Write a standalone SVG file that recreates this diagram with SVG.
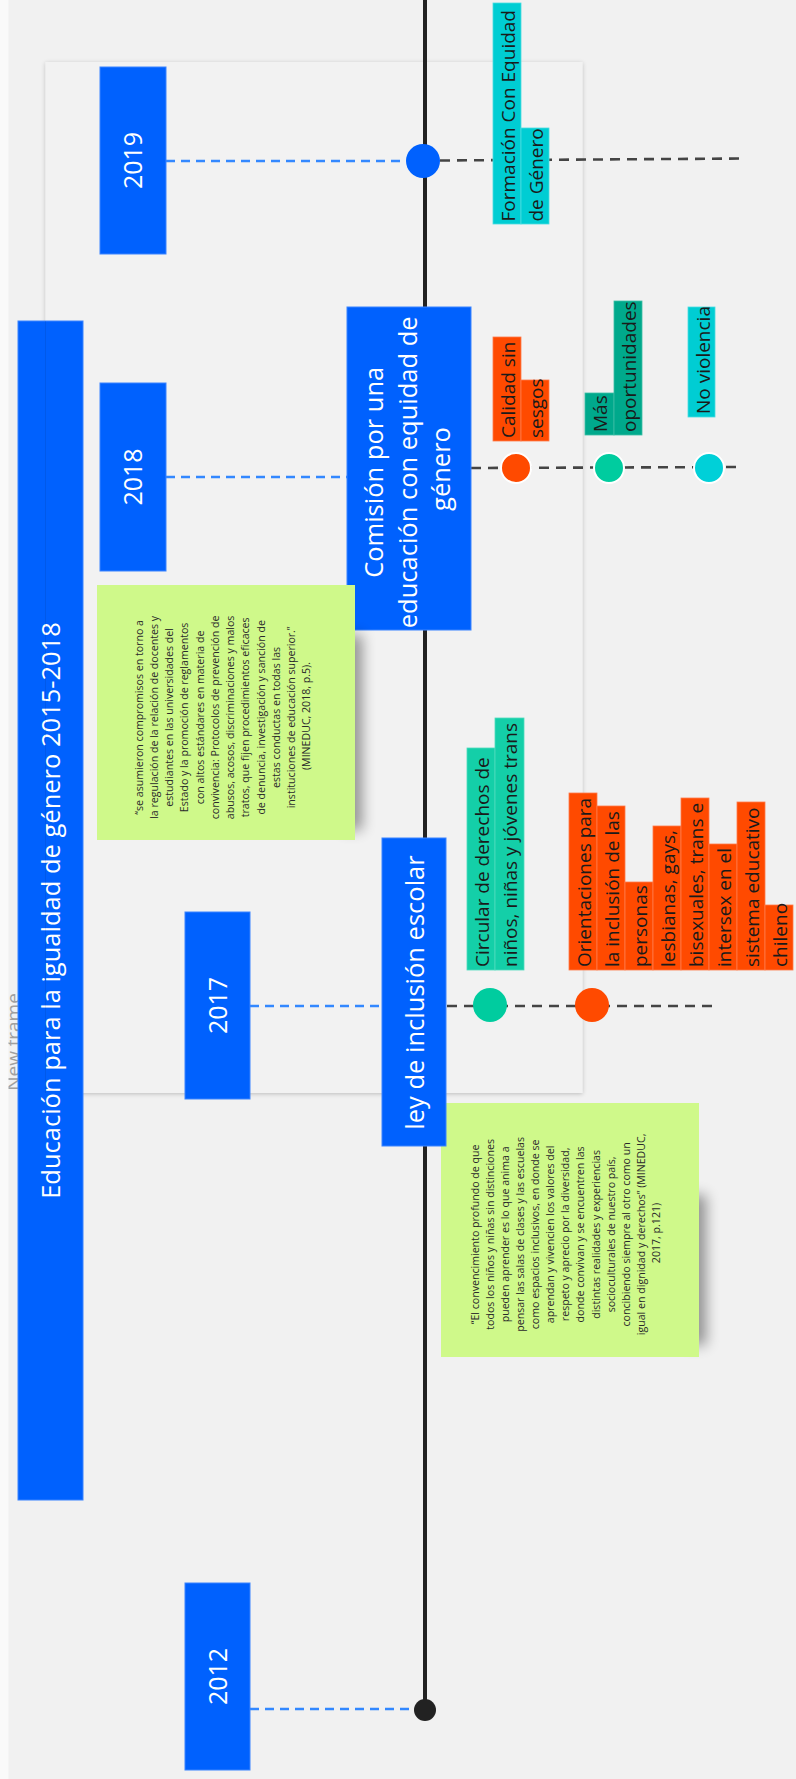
<svg xmlns="http://www.w3.org/2000/svg" width="796" height="1779" viewBox="0 0 796 1779">
<defs>
<filter id="frameShadow" x="-5%" y="-5%" width="110%" height="110%">
<feDropShadow dx="0" dy="1" stdDeviation="2" flood-color="#000" flood-opacity="0.22"/>
</filter>
<filter id="blur6" x="-150%" y="-30%" width="400%" height="160%">
<feGaussianBlur stdDeviation="7"/>
</filter>
<style>
text{font-family:"Open Sans","Noto Sans","DejaVu Sans",sans-serif;}
.box{fill:#0061fe;stroke:#3a84ff;stroke-width:1;}
.yr{font-size:25px;fill:#ffffff;}
.big{font-size:25.5px;fill:#ffffff;}
.lbl{font-size:19px;fill:#1a1a1a;}
.note{font-size:10.6px;fill:#2a2a2a;}
.dashB{stroke:#3388ff;stroke-width:2.6;stroke-dasharray:9 6;fill:none;}
.dashG{stroke:#444444;stroke-width:2.6;stroke-dasharray:10 7;fill:none;}
.or{fill:#ff4a00;stroke:#ff7a4a;stroke-width:0.8;}
.gr{fill:#14cfa8;stroke:#4fdcbd;stroke-width:0.8;}
.gd{fill:#00a98c;stroke:#3cbfa6;stroke-width:0.8;}
.cy{fill:#00cdd3;stroke:#4adde2;stroke-width:0.8;}
.sticky{fill:#cff98a;}
.shadow{fill:#000;opacity:0.4;}
</style>
</defs>

<g id="background">
<rect x="0" y="0" width="796" height="1779" fill="#f1f1f1"/>
</g>

<g id="frame">
<rect x="45.5" y="62" width="537" height="1031" fill="#f2f2f2" filter="url(#frameShadow)"/>
</g>

<g id="new-frame-label">
<text transform="rotate(-90)" x="-1042" y="19.5" text-anchor="middle" font-size="19" fill="#a0a0a0">New frame</text>
</g>

<g id="connectors">
<line id="timeline" x1="425" y1="0" x2="425" y2="1710" stroke="#222222" stroke-width="4"/>
<line class="dashB" x1="166" y1="161" x2="406" y2="161"/>
<line class="dashG" x1="440" y1="160.5" x2="746" y2="158.5"/>
<line class="dashB" x1="166" y1="477" x2="347" y2="477"/>
<line class="dashG" x1="471" y1="468" x2="740" y2="467"/>
<line class="dashB" x1="250" y1="1006" x2="382" y2="1006"/>
<line class="dashG" x1="447" y1="1006" x2="712" y2="1006"/>
<line class="dashB" x1="250" y1="1709" x2="420" y2="1709"/>
</g>

<g id="title-bar">
<rect class="box" x="18" y="321" width="65" height="1179"/>
<text class="big" transform="rotate(-90)" x="-910.5" y="59.6" text-anchor="middle">Educación para la igualdad de género 2015-2018</text>
</g>
<line x1="45.5" y1="321" x2="45.5" y2="1093" stroke="#000" stroke-opacity="0.08" stroke-width="1"/>

<g id="year-2019">
<rect class="box" x="100" y="67" width="66" height="187"/>
<text class="yr" transform="rotate(-90)" x="-160.5" y="142" text-anchor="middle">2019</text>
</g>
<g id="year-2018">
<rect class="box" x="100" y="383" width="66" height="188"/>
<text class="yr" transform="rotate(-90)" x="-477" y="142" text-anchor="middle">2018</text>
</g>
<g id="year-2017">
<rect class="box" x="185" y="912" width="65" height="187"/>
<text class="yr" transform="rotate(-90)" x="-1005.5" y="226.5" text-anchor="middle">2017</text>
</g>
<g id="year-2012">
<rect class="box" x="185" y="1583" width="65" height="187"/>
<text class="yr" transform="rotate(-90)" x="-1676.5" y="226.5" text-anchor="middle">2012</text>
</g>

<g id="comision">
<rect class="box" x="347" y="307" width="124" height="323"/>
<text class="big" font-size="22.5" transform="rotate(-90)" text-anchor="middle">
<tspan x="-469" y="383.3">Comisión por una</tspan>
<tspan x="-469" y="416.6">educación con equidad de</tspan>
<tspan x="-469" y="449.9">género</tspan>
</text>
</g>

<g id="note-2017">
<rect class="shadow" x="686" y="1195" width="20" height="150" filter="url(#blur6)"/>
<rect class="sticky" x="441" y="1103" width="258" height="254"/>
<text class="note" transform="rotate(-90)" text-anchor="middle">
<tspan x="-1233" y="478.7">“El convencimiento profundo de que</tspan>
<tspan x="-1233" y="493.8">todos los niños y niñas sin distinciones</tspan>
<tspan x="-1233" y="508.9">pueden aprender es lo que anima a</tspan>
<tspan x="-1233" y="524">pensar las salas de clases y las escuelas</tspan>
<tspan x="-1233" y="539.1">como espacios inclusivos, en donde se</tspan>
<tspan x="-1233" y="554.2">aprendan y vivencien los valores del</tspan>
<tspan x="-1233" y="569.3">respeto y aprecio por la diversidad,</tspan>
<tspan x="-1233" y="584.4">donde convivan y se encuentren las</tspan>
<tspan x="-1233" y="599.5">distintas realidades y experiencias</tspan>
<tspan x="-1233" y="614.6">socioculturales de nuestro país,</tspan>
<tspan x="-1233" y="629.7">concibiendo siempre al otro como un</tspan>
<tspan x="-1233" y="644.8">igual en dignidad y derechos” (MINEDUC,</tspan>
<tspan x="-1233" y="660">2017, p.121)</tspan>
</text>
</g>

<g id="ley-inclusion">
<rect class="box" x="382" y="838" width="64" height="308"/>
<text class="big" transform="rotate(-90)" x="-992.5" y="423.6" text-anchor="middle">ley de inclusión escolar</text>
</g>

<g id="dots">
<circle cx="423" cy="161" r="17" fill="#0061fe"/>
<circle cx="516" cy="468" r="15" fill="#ff4a00" stroke="#ffffff" stroke-width="2"/>
<circle cx="609" cy="468" r="15" fill="#00cc9f" stroke="#ffffff" stroke-width="2"/>
<circle cx="709" cy="468" r="15" fill="#00d0d8" stroke="#ffffff" stroke-width="2"/>
<circle cx="490" cy="1005" r="17" fill="#00cc9f"/>
<circle cx="592" cy="1005" r="17" fill="#ff4a00"/>
<circle cx="425" cy="1710" r="11" fill="#222222"/>
</g>

<g id="label-formacion">
<rect class="cy" x="493" y="3" width="28" height="221"/>
<rect class="cy" x="521" y="128" width="28" height="96"/>
<text class="lbl" transform="rotate(-90)">
<tspan x="-221.5" y="514.5">Formación Con Equidad</tspan>
<tspan x="-221.5" y="542.5">de Género</tspan>
</text>
</g>

<g id="label-calidad">
<rect class="or" x="493" y="337" width="28" height="104"/>
<rect class="or" x="521" y="380" width="28" height="61"/>
<text class="lbl" transform="rotate(-90)">
<tspan x="-438" y="514.5">Calidad sin</tspan>
<tspan x="-438" y="542.5">sesgos</tspan>
</text>
</g>

<g id="label-mas">
<rect class="gd" x="585" y="393" width="29" height="42"/>
<rect class="gd" x="614" y="301" width="28" height="134"/>
<text class="lbl" transform="rotate(-90)">
<tspan x="-432" y="606.5">Más</tspan>
<tspan x="-432" y="635.5">oportunidades</tspan>
</text>
</g>

<g id="label-noviolencia">
<rect class="cy" x="688" y="307" width="27" height="110"/>
<text class="lbl" transform="rotate(-90)" x="-414" y="709.5">No violencia</text>
</g>

<g id="label-circular">
<rect class="gr" x="467" y="748" width="28" height="222"/>
<rect class="gr" x="495" y="718" width="29" height="252"/>
<text class="lbl" transform="rotate(-90)">
<tspan x="-967" y="488.5">Circular de derechos de</tspan>
<tspan x="-967" y="516.5">niños, niñas y jóvenes trans</tspan>
</text>
</g>

<g id="label-orientaciones">
<rect class="or" x="569" y="793" width="28" height="177"/>
<rect class="or" x="597" y="806" width="28" height="164"/>
<rect class="or" x="625" y="882" width="28" height="88"/>
<rect class="or" x="653" y="826" width="28" height="144"/>
<rect class="or" x="681" y="798" width="28" height="172"/>
<rect class="or" x="709" y="844" width="28" height="126"/>
<rect class="or" x="737" y="802" width="28" height="168"/>
<rect class="or" x="765" y="905" width="28" height="65"/>
<text class="lbl" transform="rotate(-90)">
<tspan x="-967" y="590.5">Orientaciones para</tspan>
<tspan x="-967" y="618.5">la inclusión de las</tspan>
<tspan x="-967" y="646.5">personas</tspan>
<tspan x="-967" y="674.5">lesbianas, gays,</tspan>
<tspan x="-967" y="702.5">bisexuales, trans e</tspan>
<tspan x="-967" y="730.5">intersex en el</tspan>
<tspan x="-967" y="758.5">sistema educativo</tspan>
<tspan x="-967" y="786.5">chileno</tspan>
</text>
</g>

<g id="note-2018">
<rect class="shadow" x="342" y="635" width="20" height="195" filter="url(#blur6)"/>
<rect class="sticky" x="97" y="585" width="258" height="255"/>
<text class="note" transform="rotate(-90)" text-anchor="middle">
<tspan x="-716" y="142.5">“se asumieron compromisos en torno a</tspan>
<tspan x="-716" y="157.75">la regulación de la relación de docentes y</tspan>
<tspan x="-716" y="173">estudiantes en las universidades del</tspan>
<tspan x="-716" y="188.25">Estado y la promoción de reglamentos</tspan>
<tspan x="-716" y="203.5">con altos estándares en materia de</tspan>
<tspan x="-716" y="218.75">convivencia: Protocolos de prevención de</tspan>
<tspan x="-716" y="234">abusos, acosos, discriminaciones y malos</tspan>
<tspan x="-716" y="249.25">tratos, que fijen procedimientos eficaces</tspan>
<tspan x="-716" y="264.5">de denuncia, investigación y sanción de</tspan>
<tspan x="-716" y="279.75">estas conductas en todas las</tspan>
<tspan x="-716" y="295">instituciones de educación superior.”</tspan>
<tspan x="-716" y="310.25">(MINEDUC, 2018, p.5).</tspan>
</text>
</g>

<rect x="0" y="0" width="8.5" height="1779" fill="#fafafa"/>
</svg>
